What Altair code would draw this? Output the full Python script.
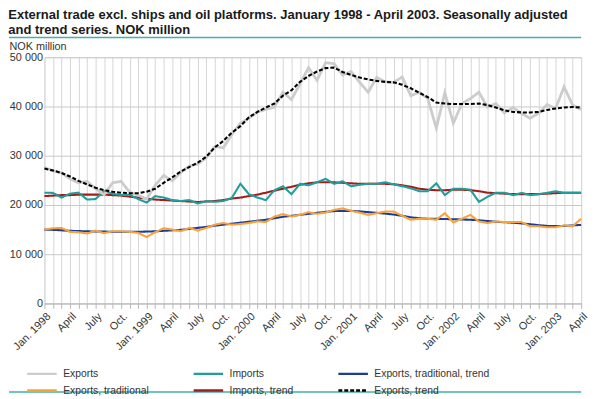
import altair as alt
import pandas as pd

# ---------------- data (NOK million, Jan 1998 - Apr 2003, monthly) ----------------
quarter_labels = ["Jan. 1998", "April", "July", "Oct.", "Jan. 1999", "April", "July", "Oct.",
                  "Jan. 2000", "April", "July", "Oct.", "Jan. 2001", "April", "July", "Oct.",
                  "Jan. 2002", "April", "July", "Oct.", "Jan. 2003", "April"]

exports = [27600, 26950, 26500, 25300, 24500, 24800, 23300, 22100, 24500, 24800, 22600, 22000,
           21200, 24000, 26000, 24900, 26600, 27900, 28300, 29600, 31900, 31600, 34300, 36600,
           37600, 38900, 39400, 39900, 42900, 41400, 44600, 47900, 45300, 48900, 48700, 46400,
           47100, 44900, 42900, 45900, 45000, 44900, 46000, 42200, 42900, 41600, 35600, 42800,
           36600, 40600, 41600, 42900, 39900, 40600, 38700, 39800, 38600, 37600, 38600, 40400,
           39600, 44000, 40300, 39400]

exports_trend = [27400, 27000, 26500, 25800, 24900, 24200, 23500, 23000, 22700, 22500, 22400, 22400,
                 22700, 23300, 24500, 25600, 26800, 27700, 28600, 29800, 31700, 33000, 34700, 36000,
                 37800, 38900, 39800, 40600, 42200, 43300, 45000, 46200, 47100, 47800, 47900, 47000,
                 46400, 45900, 45500, 45200, 45000, 44900, 44400, 43700, 42800, 41900, 40800, 40600,
                 40500, 40500, 40500, 40600, 40300, 39800, 39200, 38900, 38800, 38800, 38900, 39300,
                 39600, 39800, 39900, 39800]

imports = [22500, 22450, 21500, 22300, 22500, 21100, 21200, 22800, 22300, 22000, 22100, 21200,
           20500, 21800, 21500, 21000, 20800, 21000, 20300, 20800, 20650, 20800, 21450, 24300,
           22200, 21500, 21000, 23000, 23800, 22200, 24300, 24000, 24600, 25300, 24300, 24800,
           23800, 24100, 24300, 24300, 24600, 24200, 23800, 23400, 22800, 22800, 24400, 22000,
           23300, 23300, 23100, 20650, 21650, 22500, 22500, 22000, 22450, 22000, 22200, 22450,
           22800, 22450, 22500, 22500]

imports_trend = [21800, 21900, 22000, 22000, 22100, 22100, 22100, 22100, 22000, 21900, 21700, 21500,
                 21300, 21100, 21000, 20900, 20800, 20700, 20600, 20700, 20800, 21000, 21300, 21500,
                 21800, 22100, 22500, 22900, 23300, 23700, 24100, 24400, 24600, 24600, 24600, 24500,
                 24400, 24300, 24300, 24300, 24300, 24200, 24000, 23700, 23300, 23100, 23000, 23000,
                 23100, 23100, 23000, 22800, 22500, 22400, 22300, 22200, 22200, 22200, 22200, 22300,
                 22400, 22500, 22500, 22500]

exports_trad = [15000, 15270, 15340, 14540, 14470, 14200, 14800, 14280, 14670, 14670, 14540, 14340,
                13480, 14470, 15270, 15000, 14670, 15340, 14800, 15340, 16000, 16330, 16000, 16130,
                16330, 16670, 16530, 17660, 18130, 17660, 18000, 18530, 18200, 18460, 18990, 19320,
                18790, 18460, 17990, 18330, 18660, 18660, 17800, 17000, 17200, 17200, 17000, 18330,
                16460, 17200, 17990, 16660, 16330, 16660, 16530, 16530, 16530, 15670, 15670, 15470,
                15470, 15870, 15670, 17200]

exports_trad_trend = [15000, 14950, 14850, 14750, 14700, 14650, 14600, 14600, 14550, 14550, 14550, 14550,
                      14600, 14650, 14750, 14850, 14950, 15150, 15350, 15550, 15800, 16000, 16200, 16400,
                      16600, 16800, 17000, 17300, 17600, 17800, 18000, 18200, 18400, 18600, 18750, 18800,
                      18800, 18700, 18550, 18400, 18250, 18050, 17800, 17500, 17300, 17200, 17200, 17150,
                      17100, 17050, 17000, 16900, 16750, 16600, 16500, 16400, 16250, 16100, 15900, 15750,
                      15700, 15750, 15850, 15950]

legend_order = ["Exports", "Imports", "Exports, traditional, trend",
                "Exports, traditional", "Imports, trend", "Exports, trend"]
legend_colors = ["#cccccc", "#1f9e9a", "#1d3c97", "#f7a23a", "#a51b1b", "#000000"]
legend_dashes = [[1, 0], [1, 0], [1, 0], [1, 0], [1, 0], [4, 2]]

series_values = {
    "Exports": exports,
    "Imports": imports,
    "Exports, traditional, trend": exports_trad_trend,
    "Exports, traditional": exports_trad,
    "Imports, trend": imports_trend,
    "Exports, trend": exports_trend,
}
draw_order = ["Exports, traditional, trend", "Exports, traditional", "Imports, trend",
              "Imports", "Exports", "Exports, trend"]
line_widths = {"Exports": 2.8}

# ---------------- build table ----------------
rows = []
for name in draw_order:
    for i, v in enumerate(series_values[name]):
        rows.append({"m": i, "value": v, "series": name})
df = pd.DataFrame(rows)

n_months = len(exports)
month_labels = [quarter_labels[i // 3] if i % 3 == 0 else "" for i in range(n_months)]
label_js = "[" + ",".join("'" + s + "'" for s in month_labels) + "][datum.value]"

FONT = "Liberation Sans"
PW, PH = 545, 250

legend = alt.Legend(orient="none", legendX=-19, legendY=316, columns=3, direction="horizontal",
                    title=None,
                    symbolType="stroke", symbolSize=900, symbolStrokeWidth=2.5,
                    clipHeight=11, labelFontSize=10.5, labelFont=FONT, labelColor="#333333",
                    columnPadding=44, rowPadding=6, labelOffset=5, labelLimit=300)

x_enc = alt.X("m:Q",
              scale=alt.Scale(domain=[0, n_months - 1], nice=False, zero=False),
              axis=alt.Axis(values=list(range(n_months)), labelExpr=label_js, title=None,
                            labelAngle=315, labelAlign="right", labelBaseline="top",
                            labelFontSize=11, labelFont=FONT, labelColor="#333333",
                            labelOverlap=False, labelFlush=False, labelPadding=2,
                            tickSize=5, tickColor="#b8b8b8", domainColor="#b8b8b8",
                            grid=True, gridColor="#d6d6d6", gridWidth=1))
y_enc = alt.Y("value:Q",
              scale=alt.Scale(domain=[0, 50000], nice=False),
              axis=alt.Axis(values=[0, 10000, 20000, 30000, 40000, 50000],
                            labelExpr="replace(format(datum.value, ','), ',', ' ')",
                            title="NOK million", titleAngle=0, titleAlign="left",
                            titleBaseline="alphabetic", titleX=-36, titleY=-8,
                            titleFontWeight="normal", titleFontSize=11, titleFont=FONT,
                            titleColor="#333333",
                            labelFontSize=11, labelFont=FONT, labelColor="#333333",
                            labelPadding=2, ticks=False, domain=False,
                            grid=True, gridColor="#c8c8c8", gridWidth=1))

color_enc = alt.Color("series:N", scale=alt.Scale(domain=legend_order, range=legend_colors),
                      legend=legend)
dash_enc = alt.StrokeDash("series:N", scale=alt.Scale(domain=legend_order, range=legend_dashes),
                          legend=legend)

layers = []
for name in draw_order:
    layers.append(
        alt.Chart(df).transform_filter(alt.datum.series == name)
        .mark_line(strokeWidth=line_widths.get(name, 2.1))
        .encode(x=x_enc, y=y_enc, color=color_enc, strokeDash=dash_enc)
    )

rule_df = pd.DataFrame({"k": [0]})
top_rule = alt.Chart(rule_df).mark_rule(color="#45b1ad", strokeWidth=1.5).encode(
    x=alt.value(-36), x2=alt.value(PW), y=alt.value(-20))
bottom_rule = alt.Chart(rule_df).mark_rule(color="#45b1ad", strokeWidth=1.5).encode(
    x=alt.value(-36), x2=alt.value(PW), y=alt.value(340))

chart = alt.layer(*layers, top_rule, bottom_rule).properties(
    width=PW, height=PH,
    padding={"left": 0, "top": -3, "right": 0, "bottom": 0},
    title=alt.TitleParams(
        text=["External trade excl. ships and oil platforms. January 1998 - April 2003. Seasonally adjusted",
              "and trend series. NOK million"],
        anchor="start", fontSize=13.2, fontWeight="bold", font=FONT, color="#1a1a1a",
        offset=0, lineHeight=15, frame="bounds"),
).configure_view(stroke=None).configure(font=FONT)

chart.save("out.html", embed_options={"renderer": "svg", "actions": False})
